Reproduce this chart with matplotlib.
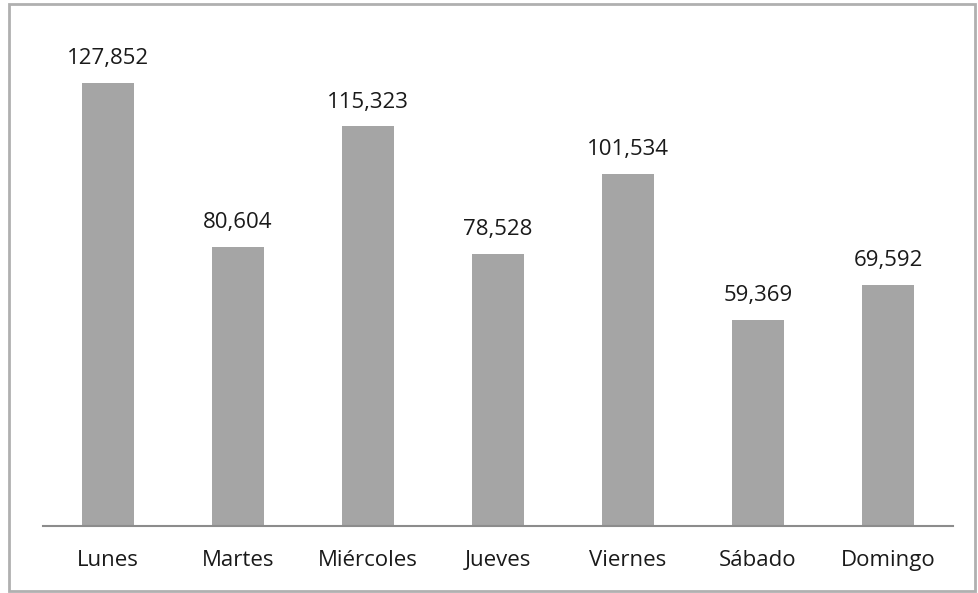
import matplotlib
matplotlib.use("Agg")
import matplotlib.pyplot as plt
from matplotlib.patches import Rectangle

plt.rcParams['font.family'] = ['Open Sans', 'DejaVu Sans']

dias = ["Lunes", "Martes", "Miércoles", "Jueves", "Viernes", "Sábado", "Domingo"]
valores = [127852, 80604, 115323, 78528, 101534, 59369, 69592]

fig = plt.figure(figsize=(9.79, 5.93), dpi=100)
ax = fig.add_axes([43/979, (593-526)/593, 910/979, (526-41)/593])

x = range(len(dias))
ax.bar(x, valores, width=0.4, color="#a5a5a5")
for xi, v in zip(x, valores):
    ax.text(xi, v + 4000, f"{v:,}", ha="center", va="bottom", fontsize=16, color="#1a1a1a")

ax.set_xlim(-0.5, len(dias) - 0.5)
ax.set_ylim(0, 140000)
ax.set_xticks(list(x))
ax.set_xticklabels(dias, fontsize=16, color="#1a1a1a")
ax.tick_params(axis="x", length=0, pad=17)
ax.set_yticks([])
for s in ["top", "right", "left"]:
    ax.spines[s].set_visible(False)
ax.spines["bottom"].set_color("#8c8c8c")
ax.spines["bottom"].set_linewidth(1.5)

# marco gris alrededor del gráfico
fig.patches.append(Rectangle((9/979, 2/593), 966/979, 587/593, transform=fig.transFigure,
                             fill=False, edgecolor="#b0b0b0", linewidth=2))

fig.savefig("out.png", dpi=100)
